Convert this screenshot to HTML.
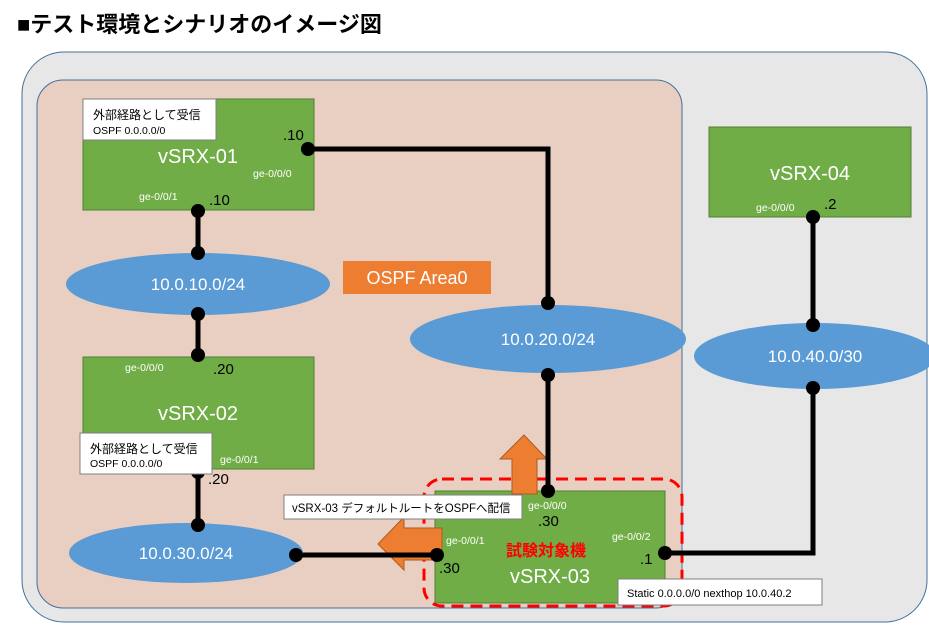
<!DOCTYPE html>
<html><head><meta charset="utf-8"><style>
html,body{margin:0;padding:0;background:#fff;}
svg{display:block;}
text{font-family:"Liberation Sans","Noto Sans CJK JP",sans-serif;}
</style></head><body>
<svg width="929" height="626" viewBox="0 0 929 626" xmlns="http://www.w3.org/2000/svg">
<text x="17" y="32" font-size="22" font-weight="bold" fill="#000">■テスト環境とシナリオのイメージ図</text>
<rect x="22" y="52" width="905" height="570" rx="42" fill="#e7e7e7" stroke="#41719c" stroke-width="1"/>
<rect x="37" y="80" width="645" height="528" rx="26" fill="#e8cfc1" stroke="#41719c" stroke-width="1"/>

<!-- routers -->
<g fill="#70ad47" stroke="#507e32" stroke-width="1">
<rect x="83" y="99" width="231" height="111"/>
<rect x="709" y="127" width="202" height="90"/>
<rect x="83" y="357" width="231" height="112"/>
<rect x="435" y="491" width="230" height="112"/>
</g>
<rect x="424" y="479" width="258" height="127" rx="18" fill="none" stroke="#ff0000" stroke-width="3" stroke-dasharray="12,7"/>

<!-- orange arrows -->
<g fill="#ed7d31" stroke="#ae5a21" stroke-width="1">
<polygon points="524,435 547,459 537,459 537,494 512,494 512,459 500,459"/>
<polygon points="378,544 404,517 404,528 442,528 442,560 404,560 404,570"/>
</g>

<!-- lines -->
<g stroke="#000" stroke-width="5" fill="none">
<polyline points="308,149 548,149 548,303"/>
<line x1="548" y1="375" x2="548" y2="491"/>
<line x1="198" y1="211" x2="198" y2="253"/>
<line x1="198" y1="314" x2="198" y2="355"/>
<line x1="198" y1="472" x2="198" y2="525"/>
<line x1="296" y1="555" x2="437" y2="555"/>
<polyline points="665,553 813,553 813,388"/>
<line x1="813" y1="217" x2="813" y2="325"/>
</g>

<!-- ellipses -->
<g fill="#5b9bd5">
<ellipse cx="198" cy="284" rx="132" ry="31"/>
<ellipse cx="548" cy="339" rx="138" ry="34"/>
<ellipse cx="815" cy="356" rx="121" ry="33"/>
<ellipse cx="186" cy="553" rx="117" ry="30"/>
</g>
<g fill="#fff" font-size="17" text-anchor="middle">
<text x="198" y="290">10.0.10.0/24</text>
<text x="548" y="345">10.0.20.0/24</text>
<text x="815" y="362">10.0.40.0/30</text>
<text x="186" y="559">10.0.30.0/24</text>
</g>

<!-- OSPF area -->
<rect x="343" y="261" width="148" height="33" fill="#ed7d31"/>
<text x="417" y="284" fill="#fff" font-size="18" text-anchor="middle">OSPF  Area0</text>

<g fill="#fff" font-size="20" text-anchor="middle">
<text x="198" y="163">vSRX-01</text>
<text x="810" y="180">vSRX-04</text>
<text x="198" y="420">vSRX-02</text>
<text x="550" y="583">vSRX-03</text>
</g>
<text x="546" y="556" fill="#ff0000" font-size="16" font-weight="bold" text-anchor="middle">試験対象機</text>

<g fill="#fff" font-size="10.5">
<text x="253" y="177">ge-0/0/0</text>
<text x="139" y="200">ge-0/0/1</text>
<text x="756" y="211">ge-0/0/0</text>
<text x="125" y="371">ge-0/0/0</text>
<text x="220" y="463">ge-0/0/1</text>
<text x="528" y="509">ge-0/0/0</text>
<text x="446" y="544">ge-0/0/1</text>
<text x="612" y="540">ge-0/0/2</text>
</g>
<g fill="#000" font-size="15">
<text x="283" y="140">.10</text>
<text x="209" y="205">.10</text>
<text x="824" y="209">.2</text>
<text x="213" y="374">.20</text>
<text x="208" y="484">.20</text>
<text x="538" y="526">.30</text>
<text x="439" y="573">.30</text>
<text x="640" y="564">.1</text>
</g>

<!-- dots -->
<g fill="#000">
<circle cx="308" cy="149" r="7"/><circle cx="548" cy="303" r="7"/>
<circle cx="548" cy="375" r="7"/><circle cx="548" cy="491" r="7"/>
<circle cx="198" cy="211" r="7"/><circle cx="198" cy="253" r="7"/>
<circle cx="198" cy="314" r="7"/><circle cx="198" cy="355" r="7"/>
<circle cx="198" cy="472" r="7"/><circle cx="198" cy="525" r="7"/>
<circle cx="296" cy="555" r="7"/><circle cx="437" cy="555" r="7"/>
<circle cx="665" cy="553" r="7"/><circle cx="813" cy="388" r="7"/>
<circle cx="813" cy="217" r="7"/><circle cx="813" cy="325" r="7"/>
</g>

<!-- label boxes -->
<g fill="#fff" stroke="#7f7f7f" stroke-width="1">
<rect x="83" y="99" width="133" height="41"/>
<rect x="80" y="433" width="132" height="41"/>
<rect x="284" y="495" width="238" height="24"/>
<rect x="618" y="579" width="204" height="26"/>
</g>
<g fill="#000">
<text x="93" y="119" font-size="12">外部経路として受信</text>
<text x="93" y="134" font-size="10.5">OSPF 0.0.0.0/0</text>
<text x="90" y="453" font-size="12">外部経路として受信</text>
<text x="90" y="467" font-size="10.5">OSPF 0.0.0.0/0</text>
<text x="292" y="512" font-size="11.5">vSRX-03 デフォルトルートをOSPFへ配信</text>
<text x="627" y="597" font-size="11">Static 0.0.0.0/0 nexthop 10.0.40.2</text>
</g>
</svg>
</body></html>
